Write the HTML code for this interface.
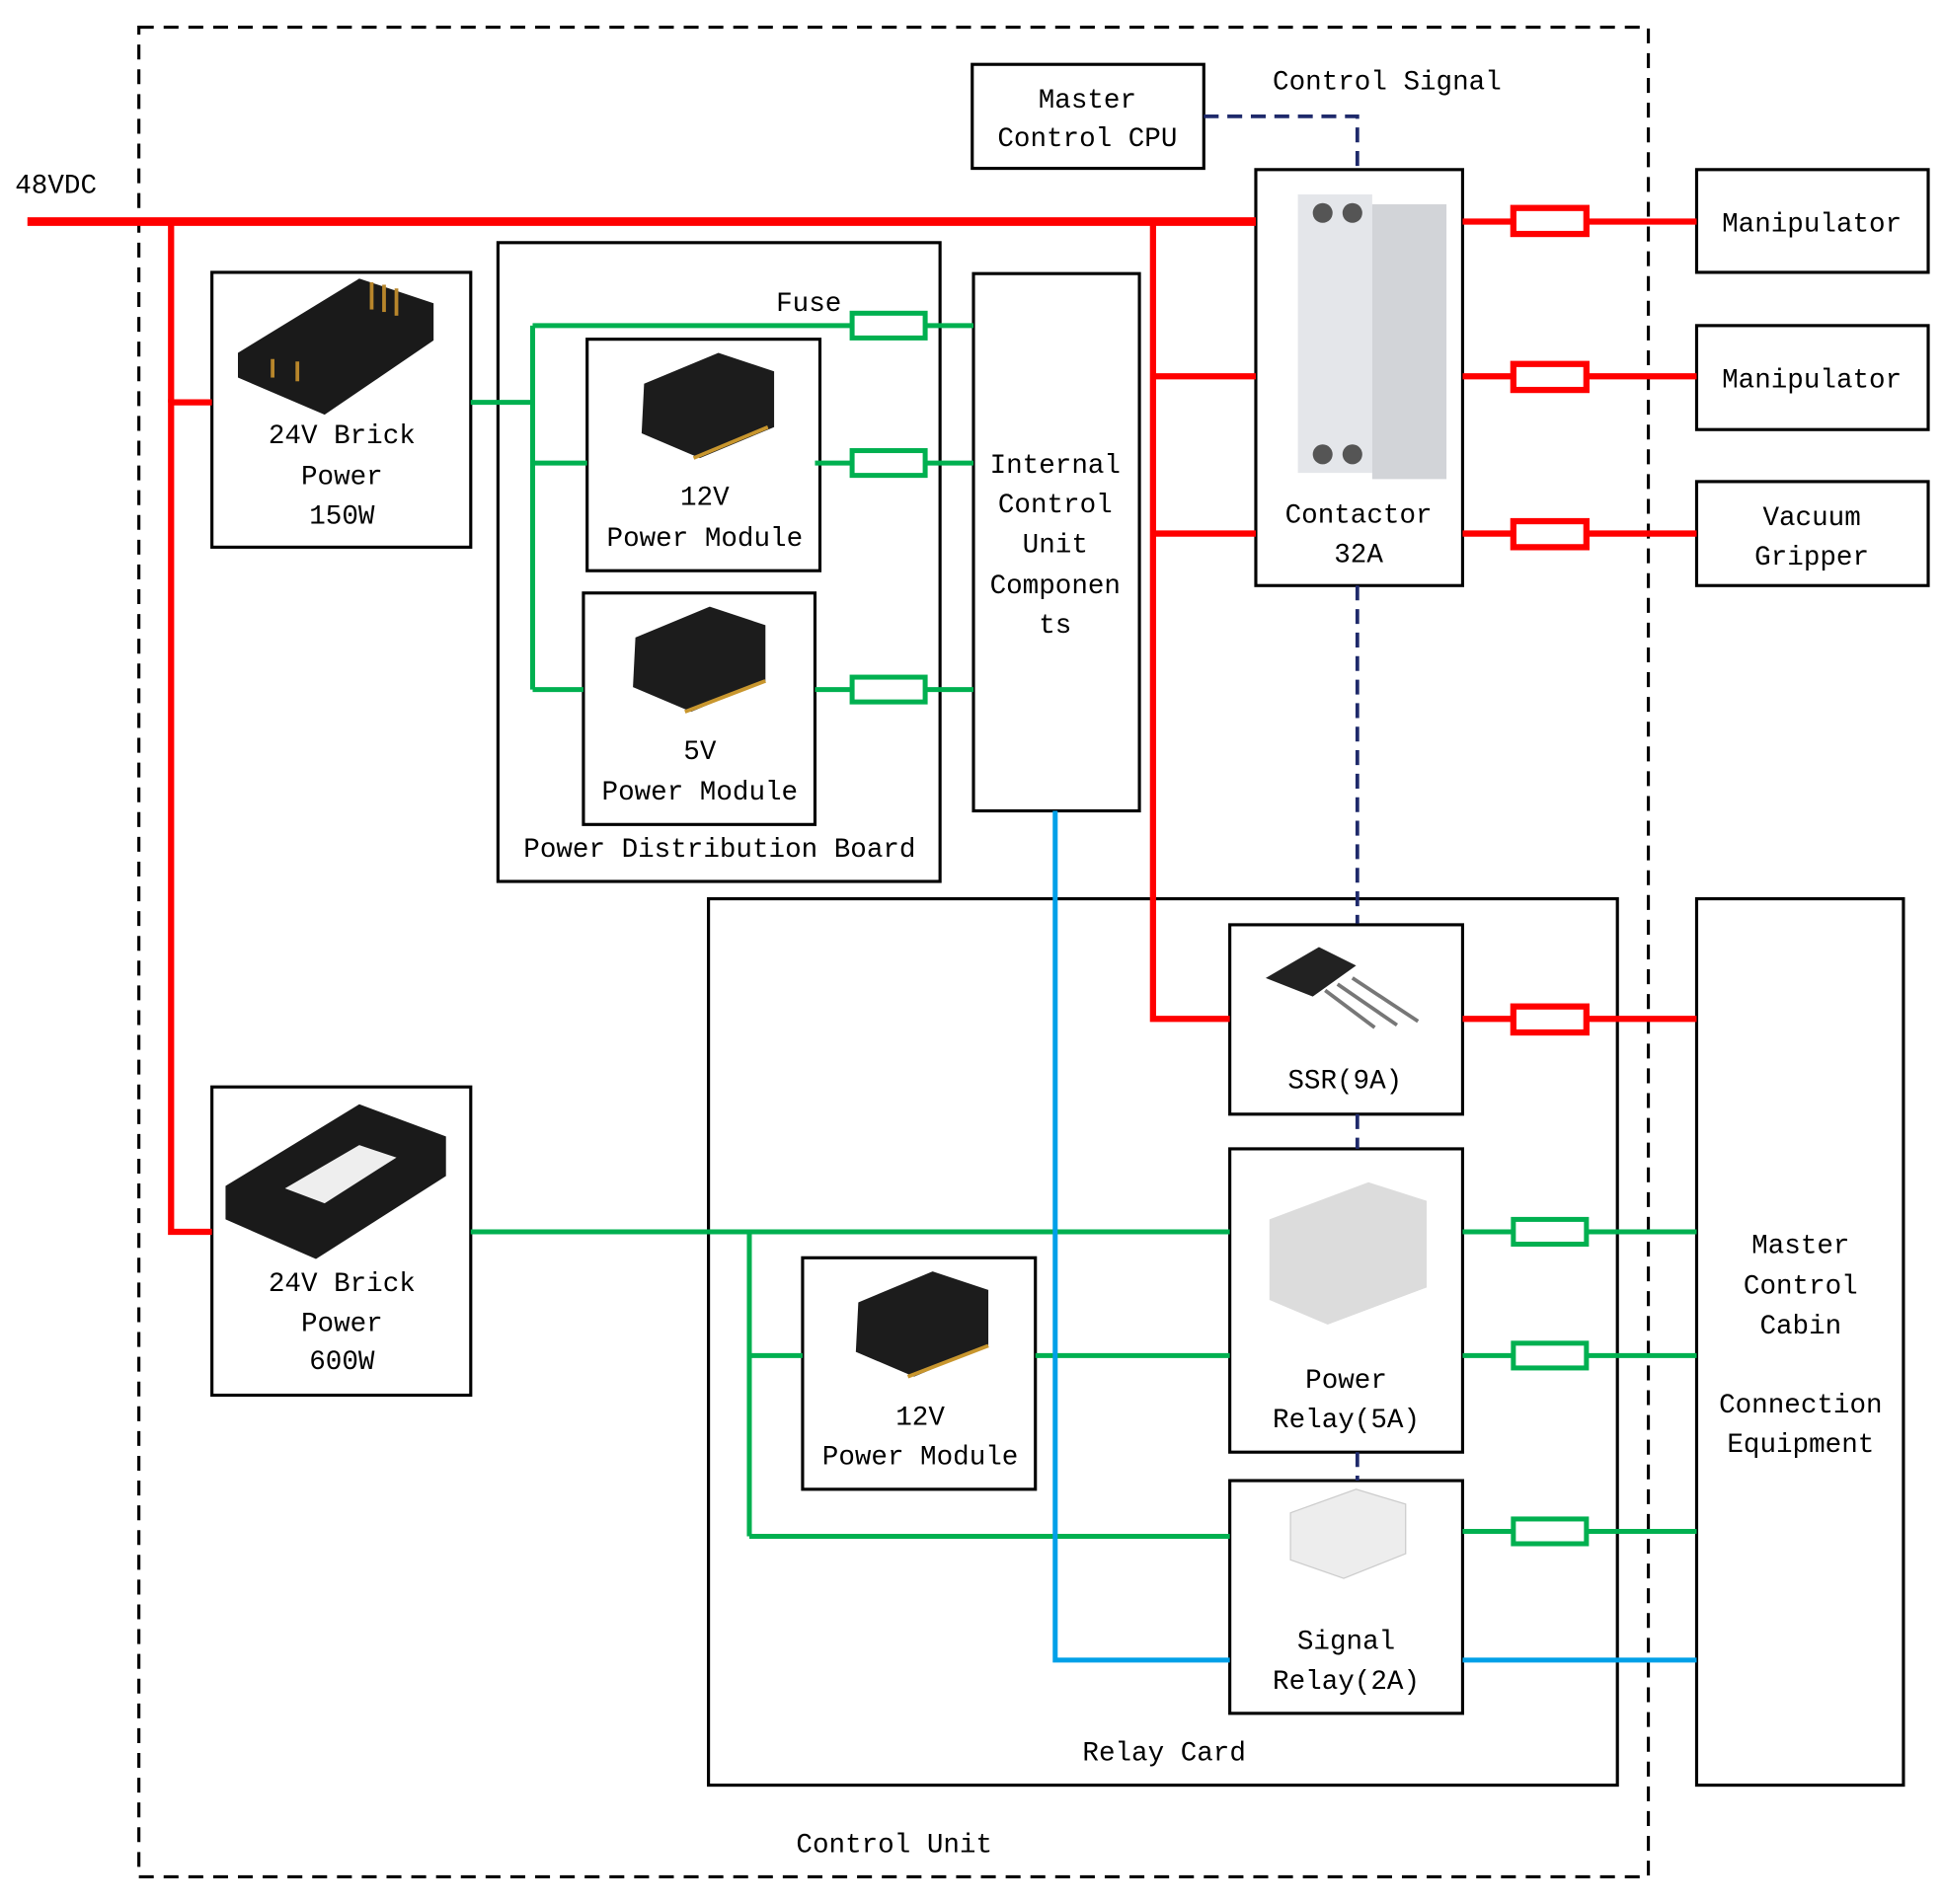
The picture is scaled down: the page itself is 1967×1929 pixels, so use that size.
<!DOCTYPE html>
<html><head><meta charset="utf-8"><style>
html,body{margin:0;padding:0;background:#fff}
svg{display:block}
text{font-family:"Liberation Mono","Noto Sans CJK SC",monospace;font-size:22px;fill:#000;text-anchor:middle}
</style></head><body>
<svg width="1967" height="1929" viewBox="0 0 1568 1538" xmlns="http://www.w3.org/2000/svg">
<rect x="0" y="0" width="1568" height="1538" fill="#fff"/>
<!-- outer dashed -->
<rect x="112" y="22" width="1219" height="1494" fill="none" stroke="#000" stroke-width="2.5" stroke-dasharray="12,8"/>
<!-- boxes -->
<g fill="none" stroke="#000" stroke-width="2.5">
<rect x="171" y="220" width="209" height="222"/>
<rect x="402" y="196" width="357" height="516"/>
<rect x="474" y="274" width="188" height="187"/>
<rect x="471" y="479" width="187" height="187"/>
<rect x="786" y="221" width="134" height="434"/>
<rect x="785" y="52" width="187" height="84"/>
<rect x="1014" y="137" width="167" height="336"/>
<rect x="1370" y="137" width="187" height="83"/>
<rect x="1370" y="263" width="187" height="84"/>
<rect x="1370" y="389" width="187" height="84"/>
<rect x="572" y="726" width="734" height="716"/>
<rect x="993" y="747" width="188" height="153"/>
<rect x="993" y="928" width="188" height="245"/>
<rect x="993" y="1196" width="188" height="188"/>
<rect x="648" y="1016" width="188" height="187"/>
<rect x="1370" y="726" width="167" height="716"/>
<rect x="171" y="878" width="209" height="249"/>
</g>
<!-- red lines -->
<g stroke="#ff0000" stroke-width="5" fill="none">
<line x1="22" y1="179" x2="1014" y2="179" stroke-width="7"/>
<polyline points="171,325 138,325 138,995 171,995"/>
<line x1="138" y1="179" x2="138" y2="325"/>
<polyline points="931,179 931,823 993,823"/>
<line x1="931" y1="304" x2="1014" y2="304"/>
<line x1="931" y1="431" x2="1014" y2="431"/>
<line x1="1181" y1="179" x2="1370" y2="179"/>
<line x1="1181" y1="304" x2="1370" y2="304"/>
<line x1="1181" y1="431" x2="1370" y2="431"/>
<line x1="1181" y1="823" x2="1370" y2="823"/>
<rect x="1222" y="168" width="59" height="21" fill="#fff"/>
<rect x="1222" y="294" width="59" height="21" fill="#fff"/>
<rect x="1222" y="421" width="59" height="21" fill="#fff"/>
<rect x="1222" y="813" width="59" height="21" fill="#fff"/>
</g>
<!-- green lines -->
<g stroke="#00b050" stroke-width="4" fill="none">
<line x1="380" y1="325" x2="430" y2="325"/>
<line x1="430" y1="263" x2="430" y2="557"/>
<line x1="430" y1="263" x2="786" y2="263"/>
<line x1="430" y1="374" x2="474" y2="374"/>
<line x1="430" y1="557" x2="471" y2="557"/>
<line x1="658" y1="374" x2="786" y2="374"/>
<line x1="658" y1="557" x2="786" y2="557"/>
<rect x="688" y="253" width="59" height="20" fill="#fff"/>
<rect x="688" y="364" width="59" height="20" fill="#fff"/>
<rect x="688" y="547" width="59" height="20" fill="#fff"/>
<line x1="380" y1="995" x2="993" y2="995"/>
<line x1="605" y1="995" x2="605" y2="1241"/>
<line x1="605" y1="1095" x2="648" y2="1095"/>
<line x1="836" y1="1095" x2="993" y2="1095"/>
<line x1="605" y1="1241" x2="993" y2="1241"/>
<line x1="1181" y1="995" x2="1370" y2="995"/>
<line x1="1181" y1="1095" x2="1370" y2="1095"/>
<line x1="1181" y1="1237" x2="1370" y2="1237"/>
<rect x="1222" y="985" width="59" height="20" fill="#fff"/>
<rect x="1222" y="1085" width="59" height="20" fill="#fff"/>
<rect x="1222" y="1227" width="59" height="20" fill="#fff"/>
</g>
<!-- blue -->
<g stroke="#00a0e8" stroke-width="4" fill="none">
<polyline points="852,655 852,1341 993,1341"/>
<line x1="1181" y1="1341" x2="1370" y2="1341"/>
</g>
<!-- navy dashed -->
<g stroke="#1f2a6b" stroke-width="3" fill="none" stroke-dasharray="12,7">
<polyline points="972,94 1096,94 1096,136"/>
<line x1="1096" y1="473" x2="1096" y2="746"/>
<line x1="1096" y1="900" x2="1096" y2="928"/>
<line x1="1096" y1="1173" x2="1096" y2="1196"/>
</g>
<!-- component pictures -->
<g>
<polygon points="192,285 290,225 350,245 350,275 262,335 192,305" fill="#1a1a1a"/>
<g stroke="#b8862b" stroke-width="3"><line x1="300" y1="228" x2="300" y2="250"/><line x1="310" y1="230" x2="310" y2="252"/><line x1="320" y1="233" x2="320" y2="255"/><line x1="220" y1="290" x2="220" y2="305"/><line x1="240" y1="292" x2="240" y2="308"/></g>
<polygon points="182,958 290,892 360,918 360,950 255,1017 182,985" fill="#1a1a1a"/>
<polygon points="230,960 290,925 320,935 262,972" fill="#eee"/>
<polygon points="520,310 580,285 625,300 625,345 565,370 518,350" fill="#1c1c1c"/>
<polygon points="513,515 573,490 618,505 618,550 558,575 511,555" fill="#1c1c1c"/>
<polygon points="693,1052 753,1027 798,1042 798,1087 738,1112 691,1092" fill="#1c1c1c"/>
<g stroke="#c8962e" stroke-width="3"><line x1="560" y1="370" x2="620" y2="345"/><line x1="553" y1="575" x2="618" y2="550"/><line x1="733" y1="1112" x2="798" y2="1087"/></g>
<rect x="1048" y="157" width="60" height="225" fill="#e4e6ea"/>
<rect x="1108" y="165" width="60" height="222" fill="#d2d4d8"/>
<circle cx="1068" cy="172" r="8" fill="#555"/><circle cx="1092" cy="172" r="8" fill="#555"/>
<circle cx="1068" cy="367" r="8" fill="#555"/><circle cx="1092" cy="367" r="8" fill="#555"/>
<polygon points="1022,790 1065,765 1095,780 1060,805" fill="#222"/>
<g stroke="#777" stroke-width="3"><line x1="1070" y1="800" x2="1110" y2="830"/><line x1="1080" y1="795" x2="1128" y2="828"/><line x1="1092" y1="790" x2="1145" y2="825"/></g>
<polygon points="1025,985 1105,955 1152,970 1152,1040 1072,1070 1025,1050" fill="#dcdcdc"/>
<polygon points="1042,1222 1095,1203 1135,1215 1135,1255 1085,1275 1042,1260" fill="#ededed" stroke="#ccc"/>
</g>
<!-- labels -->
<text x="45" y="156" style="text-anchor:middle">48VDC</text>
<text x="878" y="87">Master</text>
<text x="878" y="118">Control CPU</text>
<text x="1120" y="72">Control Signal</text>
<text x="276" y="358">24V Brick</text>
<text x="276" y="391">Power</text>
<text x="276" y="423">150W</text>
<text x="653" y="251">Fuse</text>
<text x="569" y="408">12V</text>
<text x="569" y="441">Power Module</text>
<text x="565" y="613">5V</text>
<text x="565" y="646">Power Module</text>
<text x="581" y="692">Power Distribution Board</text>
<text x="852" y="382">Internal</text>
<text x="852" y="414">Control</text>
<text x="852" y="446">Unit</text>
<text x="852" y="479">Componen</text>
<text x="852" y="511">ts</text>
<text x="1097" y="422">Contactor</text>
<text x="1097" y="454">32A</text>
<text x="1463" y="187">Manipulator</text>
<text x="1463" y="313">Manipulator</text>
<text x="1463" y="424">Vacuum</text>
<text x="1463" y="456">Gripper</text>
<text x="1086" y="879">SSR(9A)</text>
<text x="1087" y="1121">Power</text>
<text x="1087" y="1153">Relay(5A)</text>
<text x="1087" y="1332">Signal</text>
<text x="1087" y="1364">Relay(2A)</text>
<text x="743" y="1151">12V</text>
<text x="743" y="1183">Power Module</text>
<text x="276" y="1043">24V Brick</text>
<text x="276" y="1075">Power</text>
<text x="276" y="1106">600W</text>
<text x="1454" y="1012">Master</text>
<text x="1454" y="1045">Control</text>
<text x="1454" y="1077">Cabin</text>
<text x="1454" y="1141">Connection</text>
<text x="1454" y="1173">Equipment</text>
<text x="940" y="1422">Relay Card</text>
<text x="722" y="1496">Control Unit</text>
</svg>
</body></html>
